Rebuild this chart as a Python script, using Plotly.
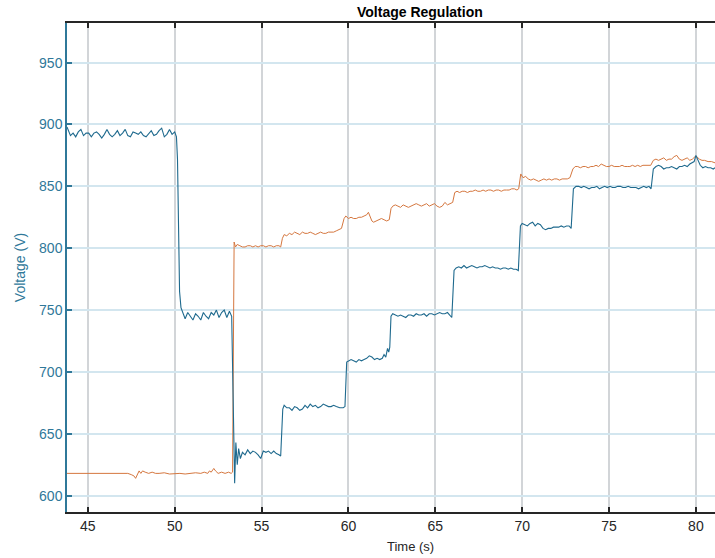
import plotly.graph_objects as go

# Bus voltage (blue) sampled over time
blue_t = [43.8, 43.9, 44.0, 44.15, 44.3, 44.45, 44.6, 44.75, 44.9, 45.05, 45.2, 45.35, 45.5, 45.65, 45.8,
          45.95, 46.1, 46.25, 46.4, 46.55, 46.7, 46.85, 47.0, 47.15, 47.3, 47.45, 47.6, 47.75, 47.9, 48.05,
          48.2, 48.35, 48.5, 48.65, 48.8, 48.95, 49.1, 49.25, 49.4, 49.55, 49.7, 49.85, 50.0, 50.1,
          50.16, 50.22, 50.28, 50.36, 50.45,
          50.6, 50.75, 50.9, 51.05, 51.2, 51.35, 51.5, 51.65, 51.8, 51.95, 52.1, 52.25, 52.4, 52.55, 52.7,
          52.85, 53.0, 53.15, 53.28,
          53.38, 53.45, 53.52, 53.6, 53.68, 53.78, 53.9, 54.05, 54.2, 54.35, 54.5, 54.65, 54.8, 54.95, 55.1,
          55.25, 55.4, 55.55, 55.7, 55.85, 56.0, 56.1,
          56.22, 56.3, 56.45, 56.6, 56.75, 56.9, 57.05, 57.2, 57.35, 57.5, 57.65, 57.8, 57.95, 58.1, 58.25,
          58.4, 58.55, 58.7, 58.85, 59.0, 59.15, 59.3, 59.5, 59.7, 59.8,
          59.9, 60.0, 60.15, 60.3, 60.45, 60.6, 60.75, 60.9, 61.05, 61.2, 61.35, 61.5, 61.65, 61.8, 61.95,
          62.05, 62.15, 62.25, 62.32, 62.38,
          62.45, 62.55, 62.7, 62.85, 63.0, 63.15, 63.3, 63.45, 63.6, 63.75, 63.9, 64.05, 64.2, 64.35, 64.5,
          64.65, 64.8, 64.95, 65.1, 65.25, 65.4, 65.55, 65.7, 65.85, 65.95,
          66.08, 66.2, 66.35, 66.5, 66.65, 66.8, 66.95, 67.1, 67.25, 67.4, 67.55, 67.7, 67.85, 68.0, 68.15,
          68.3, 68.45, 68.6, 68.75, 68.9, 69.05, 69.2, 69.35, 69.5, 69.65, 69.78,
          69.9, 70.0, 70.15, 70.3, 70.45, 70.6, 70.75, 70.9, 71.05, 71.2, 71.35, 71.5, 71.65, 71.8, 71.95,
          72.1, 72.25, 72.4, 72.55, 72.7, 72.82,
          72.95, 73.1, 73.25, 73.4, 73.55, 73.7, 73.85, 74.0, 74.15, 74.3, 74.45, 74.6, 74.75, 74.9, 75.05,
          75.2, 75.35, 75.5, 75.65, 75.8, 75.95, 76.1, 76.25, 76.4, 76.55, 76.7, 76.85, 77.0, 77.15, 77.3,
          77.42,
          77.55, 77.7, 77.85, 78.0, 78.15, 78.3, 78.45, 78.6, 78.75, 78.9, 79.05, 79.2, 79.35, 79.5, 79.65,
          79.8, 79.9, 80.0, 80.1, 80.25, 80.4, 80.55, 80.7, 80.85, 81.0, 81.1]
blue_v = [898, 895, 891, 893, 890, 894, 896, 891, 893, 893, 890, 893, 894, 892, 889,
          892, 896, 892, 890, 892, 895, 891, 893, 896, 891, 890, 894, 893, 892, 894,
          891, 890, 893, 895, 891, 892, 895, 897, 890, 892, 896, 892, 894, 890,
          872, 810, 765, 752, 748,
          743, 748, 745, 742, 747, 745, 742, 748, 745, 743, 748, 746, 750, 744, 748,
          750, 744, 749, 745,
          680, 610, 643, 625, 638, 630, 635, 633, 637, 634, 636, 635, 633, 630, 636,
          635, 636, 634, 636, 634, 633, 632,
          670, 673, 671, 671, 669, 672, 671, 669, 670, 673, 671, 674, 672, 673, 671,
          672, 674, 673, 672, 672, 673, 672, 671, 671, 672,
          708, 709, 710, 709, 708, 710, 709, 710, 711, 713, 712, 710, 711, 710, 711,
          714, 712, 719, 716, 720,
          745, 747, 746, 745, 746, 745, 744, 746, 746, 745, 747, 746, 746, 747, 745,
          747, 747, 746, 747, 748, 747, 747, 748, 745, 744,
          782, 784, 785, 784, 786, 784, 785, 786, 785, 784, 785, 785, 786, 785, 784,
          785, 784, 784, 783, 784, 784, 783, 784, 783, 783, 782,
          818, 820, 819, 818, 820, 821, 818, 820, 819, 816, 815, 816, 816, 817, 817,
          817, 818, 817, 818, 818, 816,
          848, 850, 850, 849, 850, 849, 848, 849, 849, 850, 848, 849, 850, 849, 850,
          849, 849, 850, 850, 849, 849, 850, 849, 849, 849, 848, 849, 850, 849, 850,
          848,
          864, 866, 867, 866, 864, 865, 865, 866, 865, 864, 866, 866, 867, 866, 868,
          869, 870, 875, 872, 867, 865, 866, 865, 865, 864, 865]

# Reference voltage (orange) sampled over time
orange_t = [43.8, 44.2, 44.6, 45.0, 45.4, 45.8, 46.2, 46.6, 47.0, 47.3, 47.5, 47.65, 47.75, 47.85, 47.95,
            48.05, 48.15, 48.3, 48.5, 48.7, 48.9, 49.1, 49.4, 49.7, 50.0, 50.3, 50.6, 50.9, 51.2, 51.5,
            51.7, 51.9, 52.0, 52.1, 52.25, 52.35, 52.5, 52.7, 52.9, 53.1, 53.25, 53.33,
            53.42, 53.5, 53.6, 53.75, 53.9, 54.05, 54.2, 54.35, 54.5, 54.65, 54.8, 54.95, 55.1, 55.25, 55.4,
            55.55, 55.7, 55.85, 56.0, 56.1,
            56.2, 56.3, 56.45, 56.6, 56.75, 56.9, 57.05, 57.2, 57.35, 57.5, 57.65, 57.8, 57.95, 58.1, 58.25,
            58.4, 58.55, 58.7, 58.85, 59.0, 59.15, 59.3, 59.45, 59.6,
            59.75, 59.85, 60.0, 60.15, 60.3, 60.45, 60.6, 60.75, 60.9, 61.05, 61.15, 61.25, 61.35, 61.45, 61.6,
            61.75, 61.9, 62.05, 62.2, 62.35,
            62.45, 62.55, 62.7, 62.85, 63.0, 63.15, 63.3, 63.45, 63.6, 63.75, 63.9, 64.05, 64.2, 64.35, 64.5,
            64.65, 64.8, 64.95, 65.1, 65.25, 65.4, 65.55, 65.7, 65.85, 66.0,
            66.12, 66.25, 66.4, 66.55, 66.7, 66.85, 67.0, 67.15, 67.3, 67.45, 67.6, 67.75, 67.9, 68.05, 68.2,
            68.35, 68.5, 68.65, 68.8, 68.95, 69.1, 69.25, 69.4, 69.55, 69.7, 69.8,
            69.92, 70.05, 70.2, 70.35, 70.5, 70.65, 70.8, 70.95, 71.1, 71.25, 71.4, 71.55, 71.7, 71.85, 72.0,
            72.15, 72.3, 72.45, 72.6, 72.75,
            72.92, 73.05, 73.2, 73.35, 73.5, 73.65, 73.8, 73.95, 74.1, 74.25, 74.4, 74.55, 74.7, 74.85, 75.0,
            75.15, 75.3, 75.45, 75.6, 75.75, 75.9, 76.05, 76.2, 76.35, 76.5, 76.65, 76.8, 76.95, 77.1, 77.25,
            77.4,
            77.55, 77.7, 77.85, 78.0, 78.15, 78.3, 78.45, 78.6, 78.75, 78.9, 79.05, 79.2, 79.35, 79.5, 79.65,
            79.8, 79.95, 80.05, 80.2, 80.35, 80.5, 80.7, 80.9, 81.1]
orange_v = [618, 618, 618, 618, 618.5, 618, 618.5, 618, 618.5, 618, 617, 616, 614, 617, 620,
            618, 620, 619, 618, 619, 618, 618, 618.5, 617.5, 618, 618, 617.5, 618, 618.5, 618,
            619, 618, 620, 619, 622, 620, 618, 619, 618, 619, 618, 619,
            805, 801, 803, 802, 801, 801, 802, 802, 801, 802, 801, 802, 802, 801, 802,
            802, 801, 802, 802, 801,
            808, 811, 810, 812, 811, 813, 812, 811, 813, 812, 812, 813, 812, 811, 812,
            813, 812, 812, 813, 813, 813, 814, 815, 816,
            824, 826, 824, 825, 824, 824, 825, 825, 826, 827, 829, 826, 822, 821, 822,
            823, 824, 823, 822, 823,
            832, 834, 835, 834, 833, 835, 834, 833, 834, 835, 836, 835, 834, 835, 836,
            834, 835, 836, 834, 833, 834, 837, 835, 836, 837,
            845, 846, 845, 846, 846, 845, 846, 846, 847, 846, 846, 847, 846, 847, 847,
            846, 847, 847, 846, 847, 847, 847, 848, 848, 847, 848,
            860, 857, 858, 856, 855, 856, 855, 854, 855, 856, 855, 856, 855, 856, 856,
            855, 856, 856, 856, 857,
            864, 866, 866, 865, 866, 866, 865, 866, 866, 867, 866, 868, 867, 866, 866,
            867, 866, 866, 866, 867, 866, 866, 866, 867, 866, 867, 866, 867, 867, 867,
            867,
            871, 872, 871, 872, 873, 871, 872, 872, 874, 875, 872, 871, 872, 873, 871,
            872, 874, 874, 872, 871, 871, 870, 870, 869]

x_ticks = [45, 50, 55, 60, 65, 70, 75, 80]
y_ticks = [600, 650, 700, 750, 800, 850, 900, 950]

AX_BLUE = "#2f7899"
DARK = "#262626"
FONT = "Liberation Sans, Arial, sans-serif"

fig = go.Figure()
fig.add_trace(go.Scatter(x=orange_t, y=orange_v, mode="lines",
                         line=dict(color="#d5773f", width=1), showlegend=False))
fig.add_trace(go.Scatter(x=blue_t, y=blue_v, mode="lines",
                         line=dict(color="#1f6a8e", width=1.1), showlegend=False))

fig.update_layout(
    width=715, height=558,
    margin=dict(l=67, r=0, t=23, b=46),
    paper_bgcolor="white", plot_bgcolor="white",
    font=dict(family=FONT, size=14, color=DARK),
    showlegend=False,
    xaxis=dict(
        range=[43.8, 81.1], tickvals=x_ticks, ticktext=[str(v) for v in x_ticks],
        ticks="inside", ticklen=5, tickwidth=1.5, tickcolor=DARK,
        showline=True, linecolor=DARK, linewidth=1.5, mirror="ticks",
        showgrid=True, gridcolor="#d2d5d8", gridwidth=1.5,
        zeroline=False, tickfont=dict(size=14, color=DARK),
    ),
    yaxis=dict(
        range=[586.8, 982], tickvals=y_ticks, ticktext=[str(v) for v in y_ticks],
        ticks="inside", ticklen=5, tickwidth=1.5, tickcolor=AX_BLUE,
        showline=True, linecolor=AX_BLUE, linewidth=1.5,
        showgrid=True, gridcolor="#d3e6ef", gridwidth=1.5,
        zeroline=False, tickfont=dict(size=14, color=AX_BLUE),
        title=dict(text="Voltage (V)", font=dict(size=14, color=AX_BLUE), standoff=10),
    ),
    annotations=[
        dict(text="<b>Voltage Regulation</b>", xref="paper", yref="paper",
             x=(420 - 67) / 648, y=1, yshift=1, xanchor="center", yanchor="bottom",
             showarrow=False, font=dict(size=14, color="black")),
        dict(text="Time (s)", xref="paper", yref="paper",
             x=(410 - 67) / 648, y=0, yshift=-25, xanchor="center", yanchor="top",
             showarrow=False, font=dict(size=13, color=DARK)),
    ],
)

fig.write_html("out.html")
